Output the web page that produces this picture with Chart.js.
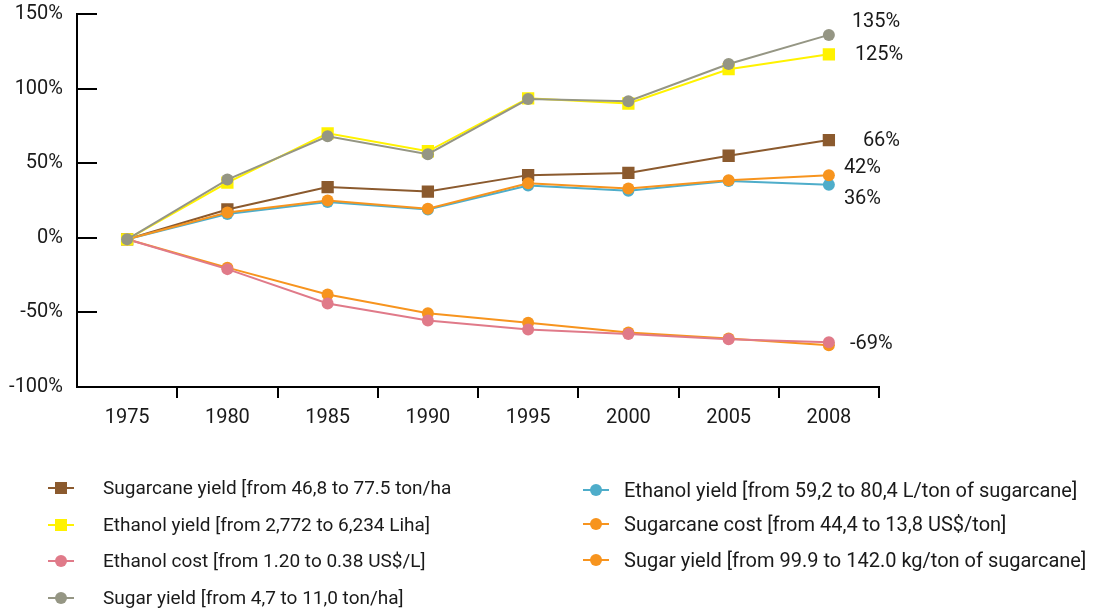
<!DOCTYPE html>
<html>
<head>
<meta charset="utf-8">
<script src="https://cdn.jsdelivr.net/npm/chart.js@4.4.0/dist/chart.umd.min.js"></script>
<style>
  html, body { margin: 0; padding: 0; background: #fff; }
  #wrap { position: relative; width: 1093px; height: 611px; }
  #legend { position: absolute; left: 0; top: 0; width: 1093px; height: 611px; pointer-events: none;
            font-family: Roboto, sans-serif; color: #1a1a1a; }
  .mk { position: absolute; width: 26px; height: 16px; }
  .mk .ln { position: absolute; left: 0; top: 7px; width: 26px; height: 2px; }
  .mk .sh { position: absolute; }
  .txt { position: absolute; white-space: nowrap; line-height: 20px; }
</style>
</head>
<body>
<div id="wrap">
  <canvas id="canvas" width="1093" height="611"></canvas>
  <div id="legend"></div>
</div>
<script>
// années (catégories)
const years = ['1975', '1980', '1985', '1990', '1995', '2000', '2005', '2008'];

// séries, en % de variation depuis 1975
const sugarcaneYield  = [-1, 19, 34, 31, 42, 43.5, 55, 65.5];
const ethanolYieldHa  = [-1, 37, 70, 58, 93.5, 90, 113, 123];
const ethanolCost     = [-1, -21, -44, -55.5, -61.5, -64.5, -68, -70];
const sugarYieldHa    = [-1, 39, 68, 56, 93, 91.5, 116.5, 136];
const ethanolYieldTon = [-1, 16, 24, 19, 35, 31.5, 38, 35.5];
const sugarcaneCost   = [-1, -20, -38, -50.5, -57, -63.5, -67.5, -72];
const sugarYieldTon   = [-1, 17, 25, 19.5, 36.5, 33, 38.5, 42];

const seriesLabels = [
  'Sugarcane yield [from 46,8 to 77.5 ton/ha',
  'Ethanol yield [from 2,772 to 6,234 Liha]',
  'Ethanol cost [from 1.20 to 0.38 US$/L]',
  'Sugar yield [from 4,7 to 11,0 ton/ha]',
  'Ethanol yield [from 59,2 to 80,4 L/ton of sugarcane]',
  'Sugarcane cost [from 44,4 to 13,8 US$/ton]',
  'Sugar yield [from 99.9 to 142.0 kg/ton of sugarcane]'
];

// étiquettes en bout de courbe
const endLabels = ['66%', '125%', '-69%', '135%', '36%', null, '42%'];

const FONT = 'Roboto, sans-serif';
const TXT = '#1a1a1a';

function makeDataset(label, data, color, style, order, endLabel, offset) {
  return {
    label: label,
    data: data,
    borderColor: color,
    backgroundColor: color,
    borderWidth: 2,
    pointStyle: style,
    pointRadius: style === 'rect' ? 8.7 : 6,
    pointBorderWidth: 0,
    pointBackgroundColor: color,
    tension: 0,
    order: order,
    endLabel: endLabel,
    endOffset: offset
  };
}

const datasets = [
  makeDataset(seriesLabels[0], sugarcaneYield, '#8b5a2e', 'rect', 6, endLabels[0], [34, 1]),
  makeDataset(seriesLabels[1], ethanolYieldHa, '#fff200', 'rect', 1, endLabels[1], [26, 1]),
  makeDataset(seriesLabels[2], ethanolCost, '#e07a89', 'circle', 2, endLabels[2], [21, 2]),
  makeDataset(seriesLabels[3], sugarYieldHa, '#959684', 'circle', 0, endLabels[3], [23, -13]),
  makeDataset(seriesLabels[4], ethanolYieldTon, '#4eadca', 'circle', 5, endLabels[4], [15, 14]),
  makeDataset(seriesLabels[5], sugarcaneCost, '#f7941e', 'circle', 3, endLabels[5], [0, 0]),
  makeDataset(seriesLabels[6], sugarYieldTon, '#f7941e', 'circle', 4, endLabels[6], [15, -7])
];

// plugin: texte en bout de courbe
const endLabelPlugin = {
  id: 'endLabels',
  afterDatasetsDraw(chart) {
    const ctx = chart.ctx;
    chart.data.datasets.forEach((ds, i) => {
      if (!ds.endLabel) return;
      const meta = chart.getDatasetMeta(i);
      const pt = meta.data[meta.data.length - 1];
      ctx.save();
      ctx.font = '20px ' + FONT;
      ctx.fillStyle = TXT;
      ctx.textAlign = 'left';
      ctx.textBaseline = 'middle';
      ctx.fillText(ds.endLabel, pt.x + ds.endOffset[0], pt.y + ds.endOffset[1]);
      ctx.restore();
    });
  }
};

Chart.defaults.font.family = FONT;
Chart.defaults.font.size = 20;
Chart.defaults.color = TXT;

new Chart(document.getElementById('canvas'), {
  type: 'line',
  data: { labels: years, datasets: datasets },
  plugins: [endLabelPlugin],
  options: {
    responsive: false,
    animation: false,
    layout: { padding: { top: 14, right: 214, bottom: 0, left: 0 } },
    plugins: { legend: { display: false }, tooltip: { enabled: false } },
    scales: {
      x: {
        offset: true,
        grid: {
          offset: true,
          drawOnChartArea: false,
          tickLength: 11,
          lineWidth: 2,
          color: (c) => c.index === 0 ? 'rgba(0,0,0,0)' : '#000'
        },
        border: { color: '#000', width: 2 },
        ticks: { padding: 8, color: TXT, maxRotation: 0 },
        afterFit: (s) => { s.height = 224; s.paddingLeft = 0; s.paddingRight = 0; }
      },
      y: {
        min: -100,
        max: 150,
        grid: { drawOnChartArea: false, tickLength: -20, lineWidth: 2, color: '#000' },
        border: { color: '#000', width: 2 },
        ticks: { stepSize: 50, padding: 34, color: TXT, callback: (v) => v + '%' },
        afterFit: (s) => { s.width = 77; s.paddingTop = 0; s.paddingBottom = 0; }
      }
    }
  }
});

// légende HTML en deux colonnes
const legendCols = [
  { markerX: 61, textX: 103, size: 19, ys: [488, 525, 561, 598], items: [0, 1, 2, 3] },
  { markerX: 596, textX: 624, size: 20, ys: [490, 524, 560], items: [4, 5, 6] }
];
const legendDiv = document.getElementById('legend');
legendCols.forEach(col => {
  col.items.forEach((idx, k) => {
    const ds = datasets[idx];
    const y = col.ys[k];
    const mk = document.createElement('div');
    mk.className = 'mk';
    mk.style.left = (col.markerX - 13) + 'px';
    mk.style.top = (y - 8) + 'px';
    const ln = document.createElement('div');
    ln.className = 'ln';
    ln.style.background = ds.borderColor;
    const sh = document.createElement('div');
    sh.className = 'sh';
    sh.style.background = ds.borderColor;
    sh.style.left = '7px'; sh.style.top = '2px'; sh.style.width = '12px'; sh.style.height = '12px';
    if (ds.pointStyle !== 'rect') sh.style.borderRadius = '50%';
    mk.appendChild(ln);
    mk.appendChild(sh);
    legendDiv.appendChild(mk);
    const t = document.createElement('div');
    t.className = 'txt';
    t.style.left = col.textX + 'px';
    t.style.top = (y - 10) + 'px';
    t.style.fontSize = col.size + 'px';
    t.textContent = ds.label;
    legendDiv.appendChild(t);
  });
});
</script>
</body>
</html>
